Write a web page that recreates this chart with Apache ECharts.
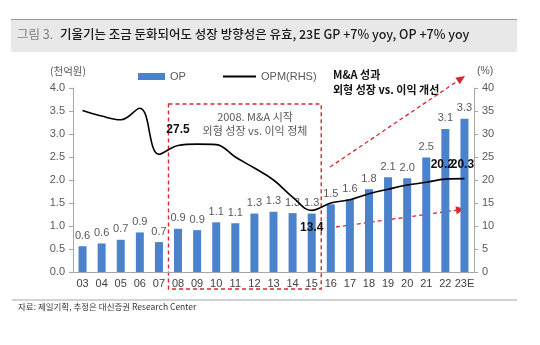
<!DOCTYPE html>
<html><head><meta charset="utf-8">
<script src="https://cdn.jsdelivr.net/npm/echarts@6/dist/echarts.min.js"></script>
<style>html,body{margin:0;padding:0;background:#fff}#c{width:540px;height:345px}</style>
</head><body><div id="c"></div>
<script>
const categories = ['03','04','05','06','07','08','09','10','11','12','13','14','15','16','17','18','19','20','21','22','23E'];
const opValues = [0.56,0.62,0.70,0.86,0.65,0.94,0.91,1.08,1.06,1.27,1.31,1.28,1.27,1.47,1.58,1.80,2.06,2.04,2.49,3.11,3.33];
const opmValues = [35.1,33.9,33.1,35.6,25.6,27.5,27.8,27.7,25.0,22.6,20.0,16.3,13.4,15.0,15.7,17.0,18.0,18.9,19.5,20.2,20.3];
const opmLabelled = ['08','15','22','23E'];
const leftTicks = [0,0.5,1.0,1.5,2.0,2.5,3.0,3.5,4.0];
const rightTicks = [0,5,10,15,20,25,30,35,40];

const FONT = 'Liberation Sans, Arial, sans-serif';
const KFONT = '"Noto Sans CJK KR", sans-serif';
const RED = '#d8282f';
const chart = echarts.init(document.getElementById('c'), null, {renderer:'canvas'});

const opmData = opmValues.map((v,i)=>{
  const c = categories[i];
  if (!opmLabelled.includes(c)) return {value:v};
  let pos = 'top', off=[0,0];
  if (c==='08') off=[0,-5];
  if (c==='15') { pos='bottom'; off=[0,6]; }
  if (c==='22') off=[-3,-3];
  if (c==='23E') off=[-2,-3];
  return {value:v, label:{show:true, position:pos, offset:off, formatter: p=>p.value.toFixed(1),
    fontFamily:FONT, fontWeight:'bold', fontSize:12, color:'#111'}};
});

chart.setOption({
  animation:false,
  grid:{left:73, right:66, top:88, bottom:73},
  legend:[
    {data:[{name:'OP', icon:'rect'}], left:133, top:66, itemWidth:27, itemHeight:7, itemGap:4,
     textStyle:{fontFamily:FONT, fontSize:11, color:'#595959'}},
    {data:[{name:'OPM(RHS)', icon:'rect', itemStyle:{color:'#000'}}], left:218, top:66, itemWidth:33, itemHeight:2,
     textStyle:{fontFamily:FONT, fontSize:11, color:'#595959'}}
  ],
  xAxis:{type:'category', data:categories,
    axisLine:{lineStyle:{color:'#a6a6a6'}}, axisTick:{show:false},
    axisLabel:{fontFamily:FONT, fontSize:11, color:'#404040', margin:6, interval:0}},
  yAxis:[
    {type:'value', min:0, max:4, interval:0.5, splitLine:{show:false},
     axisLine:{show:true, lineStyle:{color:'#a6a6a6'}}, axisTick:{show:true, length:4, lineStyle:{color:'#a6a6a6'}},
     axisLabel:{fontFamily:FONT, fontSize:11, color:'#595959', margin:8, formatter:v=>v.toFixed(1)}},
    {type:'value', min:0, max:40, interval:5, splitLine:{show:false}, position:'right',
     axisLine:{show:true, lineStyle:{color:'#a6a6a6'}}, axisTick:{show:true, length:4, lineStyle:{color:'#a6a6a6'}},
     axisLabel:{fontFamily:FONT, fontSize:11, color:'#595959', margin:8}}
  ],
  series:[
    {name:'OP', type:'bar', data:opValues, barWidth:8, itemStyle:{color:'#4a82cb'},
     label:{show:true, position:'top', distance:5, fontFamily:FONT, fontSize:11, color:'#595959', formatter:p=>p.value.toFixed(1)}},
    {name:'OPM(RHS)', type:'line', yAxisIndex:1, data:opmData, smooth:0.4, symbol:'circle', symbolSize:0, showSymbol:true,
     lineStyle:{color:'#000', width:1.6}, itemStyle:{color:'#000'}, label:{show:false}}
  ]
});

// annotations
const c08 = chart.convertToPixel({xAxisIndex:0}, '08');
const c09 = chart.convertToPixel({xAxisIndex:0}, '09');
const c15 = chart.convertToPixel({xAxisIndex:0}, '15');
const bw = c09 - c08;
const boxL = c08 - bw/2, boxR = c15 + bw/2;

function arrow(x1,y1,x2,y2){
  const a = Math.atan2(y2-y1, x2-x1), L=9, W=4;
  const bx = x2 - L*Math.cos(a), by = y2 - L*Math.sin(a);
  return [
    {type:'line', shape:{x1,y1,x2:bx,y2:by}, style:{stroke:RED, lineWidth:1.3, lineDash:[4,3]}},
    {type:'polygon', shape:{points:[[x2,y2],[bx - W*Math.sin(a), by + W*Math.cos(a)],[bx + W*Math.sin(a), by - W*Math.cos(a)]]}, style:{fill:RED}}
  ];
}

chart.setOption({graphic:[
  {type:'rect', shape:{x:11,y:20,width:506,height:32}, style:{fill:'#e8e8e8'}},
  {type:'line', shape:{x1:11,y1:19.5,x2:517,y2:19.5}, style:{stroke:'#8d99a6', lineWidth:1.2}},
  {type:'text', left:17, top:28, style:{text:'{a|그림 3.}  {b|기울기는 조금 둔화되어도 성장 방향성은 유효, 23E GP +7% yoy, OP +7% yoy}',
    rich:{a:{fontFamily:KFONT, fontSize:12.5, fill:'#7f7f7f'}, b:{fontFamily:KFONT, fontSize:12.5, fill:'#1a1a1a', fontWeight:500}}}},
  {type:'text', left:50, top:66, style:{text:'(천억원)', fontFamily:KFONT, fontSize:10.5, fill:'#595959'}},
  {type:'text', left:477, top:66, style:{text:'(%)', fontFamily:FONT, fontSize:10.5, fill:'#595959'}},
  {type:'rect', shape:{x:boxL, y:104, width:boxR-boxL, height:185}, style:{fill:'none', stroke:RED, lineWidth:1.4, lineDash:[4,3]}},
  {type:'text', x:255, y:117, style:{text:'2008. M&A 시작', align:'center', verticalAlign:'middle', fontFamily:KFONT, fontSize:11, fill:'#595959'}},
  {type:'text', x:255, y:131, style:{text:'외형 성장 vs. 이익 정체', align:'center', verticalAlign:'middle', fontFamily:KFONT, fontSize:11, fill:'#595959'}},
  {type:'text', x:333, y:75, style:{text:'M&A 성과', verticalAlign:'middle', fontFamily:KFONT, fontSize:11, fontWeight:'bold', fill:'#111'}},
  {type:'text', x:333, y:90, style:{text:'외형 성장 vs. 이익 개선', verticalAlign:'middle', fontFamily:KFONT, fontSize:11, fontWeight:'bold', fill:'#111'}},
  ...arrow(330,167,465,76),
  ...arrow(336,227,465,209),
  {type:'line', shape:{x1:12,y1:300,x2:517,y2:300}, style:{stroke:'#a6a6a6', lineWidth:1.2}},
  {type:'text', left:18, top:303, style:{text:'자료: 제일기획, 추정은 대신증권 Research Center', fontFamily:KFONT, fontSize:8.5, fill:'#333'}}
]});
</script></body></html>
